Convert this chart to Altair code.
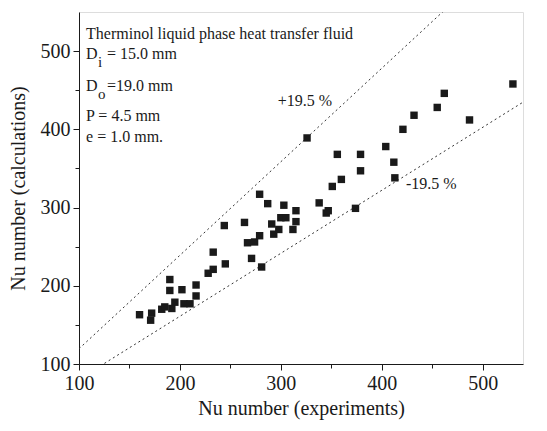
import altair as alt
import pandas as pd

# Data
nu_exp = [160, 171, 172, 182, 185, 190, 190, 192, 195, 202, 204, 210, 216, 216,
          228, 233, 233, 244, 245, 264, 267, 271, 274, 279, 279, 281, 287, 291,
          293, 298, 300, 303, 305, 312, 315, 315, 326, 338, 345, 347, 351, 356,
          360, 374, 379, 379, 404, 412, 413, 421, 432, 455, 462, 487, 530]
nu_calc = [163, 156, 165, 170, 173, 208, 194, 171, 179, 195, 177, 177, 201, 187,
           216, 243, 221, 277, 228, 281, 255, 235, 256, 264, 317, 224, 305, 279,
           266, 272, 287, 303, 287, 272, 282, 296, 389, 306, 293, 296, 327, 368,
           336, 299, 347, 368, 378, 358, 338, 400, 418, 428, 446, 412, 458]

band = 0.195
line_x = [100, 540]

pts = pd.DataFrame({"x": nu_exp, "y": nu_calc})
lines = pd.DataFrame({
    "x": line_x * 2,
    "y": [v * (1 + band) for v in line_x] + [v * (1 - band) for v in line_x],
    "g": ["up", "up", "lo", "lo"],
})

FONT = "Liberation Serif"
xs = alt.Scale(domain=[100, 540], nice=False, zero=False)
ys = alt.Scale(domain=[100, 550], nice=False, zero=False)

minor_size = {"condition": {"test": "datum.value % 100 === 0", "value": 6}, "value": 4}
lab_expr = "datum.value % 100 === 0 ? datum.label : ''"

xax = alt.Axis(values=list(range(100, 541, 50)), labelExpr=lab_expr, tickSize=minor_size,
               title="Nu number (experiments)", grid=False, labelFont=FONT, titleFont=FONT,
               labelFontSize=20, titleFontSize=20, titleFontWeight="normal",
               labelColor="#1a1a1a", titleColor="#1a1a1a", domainColor="#1a1a1a",
               tickColor="#1a1a1a", labelPadding=3, titlePadding=5, labelFlush=False)
yax = alt.Axis(values=list(range(100, 541, 50)), labelExpr=lab_expr, tickSize=minor_size,
               title="Nu number (calculations)", grid=False, labelFont=FONT, titleFont=FONT,
               labelFontSize=20, titleFontSize=20, titleFontWeight="normal",
               labelColor="#1a1a1a", titleColor="#1a1a1a", domainColor="#1a1a1a",
               tickColor="#1a1a1a", labelPadding=3, titlePadding=12, labelFlush=False)

ref = alt.Chart(lines).mark_line(clip=True, strokeDash=[2, 3], strokeWidth=1, color="#333333").encode(
    x=alt.X("x:Q", scale=xs, axis=xax),
    y=alt.Y("y:Q", scale=ys, axis=yax),
    detail="g:N",
)

sq = alt.Chart(pts).mark_square(size=55, color="#1a1a1a", opacity=1).encode(
    x=alt.X("x:Q", scale=xs), y=alt.Y("y:Q", scale=ys)
)

# annotation texts
ann_main = pd.DataFrame({
    "x": [107, 107, 107],
    "y": [522, 417, 390],
    "t": ["Therminol liquid phase heat transfer fluid", "P = 4.5 mm", "e = 1.0 mm."],
})
ann_d = pd.DataFrame({"x": [107, 107], "y": [496, 456], "t": ["D", "D"]})
ann_sub = pd.DataFrame({"x": [107, 107], "y": [496, 456], "t": ["i", "o"]})
ann_rest = pd.DataFrame({"x": [107, 107], "y": [496, 456], "t": ["= 15.0 mm", "=19.0 mm"]})
ann_pct = pd.DataFrame({"x": [297, 424], "y": [436, 330], "t": ["+19.5 %", "-19.5 %"]})

def txt(df, size=16, dx=0, dy=0):
    return alt.Chart(df).mark_text(align="left", baseline="middle", font=FONT, fontSize=size,
                                   color="#1a1a1a", dx=dx, dy=dy).encode(
        x=alt.X("x:Q", scale=xs), y=alt.Y("y:Q", scale=ys), text="t:N")

chart = alt.layer(
    ref, sq,
    txt(ann_main), txt(ann_d), txt(ann_sub, size=15, dx=12, dy=8),
    txt(ann_rest, dx=21), txt(ann_pct),
).properties(
    width=444, height=352,
    autosize=alt.AutoSizeParams(type="none"),
    padding={"left": 71, "top": 4, "right": 16, "bottom": 59},
).configure_view(stroke="#1a1a1a", strokeWidth=1.2).configure(background="white")

chart.save("out.html", embed_options={"renderer": "svg", "actions": False})
